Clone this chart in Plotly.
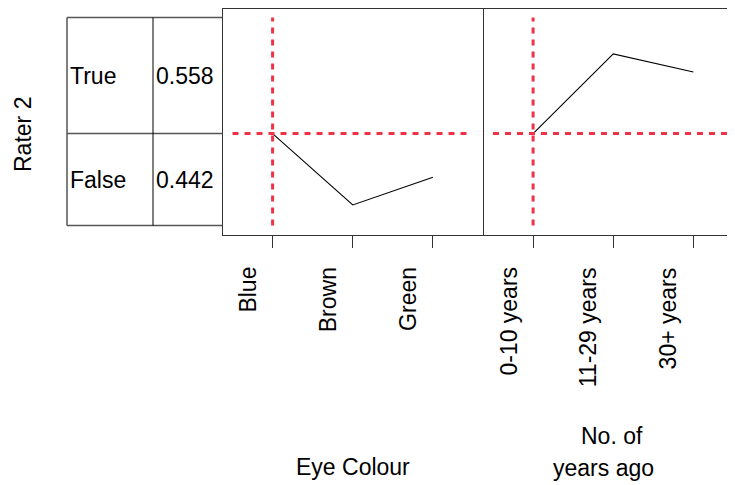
import plotly.graph_objects as go

# ---- data ----
rater_states = ["True", "False"]
rater_probs = [0.558, 0.442]
baseline = 0.442

eye_categories = ["Blue", "Brown", "Green"]
eye_values = [0.442, 0.099, 0.232]

years_categories = ["0-10 years", "11-29 years", "30+ years"]
years_values = [0.442, 0.825, 0.738]

y_title = "Rater 2"
x_title_1 = "Eye Colour"
x_title_2 = ["No. of", "years ago"]

# ---- geometry helpers (screen pixels -> paper); page body has an 8px margin ----
OFF = 8
FW, FH = 735 - OFF, 485 - OFF
def px(x):
    return (x - OFF) / FW
def py(y):
    return (FH - (y - OFF)) / FH

FONT = "Liberation Sans, Arial, sans-serif"
FS = 23
RED = "#EE3346"
AX = "#333333"
DASH = "6px,6px"

fig = go.Figure()

# main lines
fig.add_trace(go.Scatter(x=list(range(len(eye_categories))), y=eye_values, mode="lines",
                         line=dict(color="black", width=1.1), xaxis="x", yaxis="y",
                         showlegend=False, hoverinfo="skip"))
fig.add_trace(go.Scatter(x=list(range(len(years_categories))), y=years_values, mode="lines",
                         line=dict(color="black", width=1.1), xaxis="x2", yaxis="y2",
                         showlegend=False, hoverinfo="skip"))

# red reference lines (drawn from data scale)
for xa, ya in (("x", "y"), ("x2", "y2")):
    fig.add_trace(go.Scatter(x=[0, 0], y=[0, 1], mode="lines",
                             line=dict(color=RED, width=3, dash=DASH),
                             xaxis=xa, yaxis=ya, showlegend=False, hoverinfo="skip"))
    fig.add_trace(go.Scatter(x=[-0.5, 2.42], y=[baseline, baseline], mode="lines",
                             line=dict(color=RED, width=3, dash=DASH),
                             xaxis=xa, yaxis=ya, showlegend=False, hoverinfo="skip"))

panel_left, panel_mid, panel_top, panel_bot = 222.5, 483, 8.5, 235
y0_px, y1_px = 225.5, 17.5
ppu = y0_px - y1_px
yrange = [-(panel_bot - y0_px) / ppu, 1 + (y1_px - panel_top) / ppu]
unit = (panel_mid - panel_left) / 3.25

fig.update_layout(
    width=FW, height=FH, margin=dict(l=0, r=0, t=0, b=0),
    paper_bgcolor="white", plot_bgcolor="white",
    font=dict(family=FONT, size=FS, color="black"),
    xaxis=dict(domain=[px(panel_left), px(panel_mid)], range=[-0.625, 2.625],
               tickvals=[0, 1, 2], showticklabels=False, ticks="outside", ticklen=12,
               tickcolor=AX, tickwidth=1, showline=True, linecolor=AX, linewidth=1,
               mirror=True, showgrid=False, zeroline=False, fixedrange=True),
    yaxis=dict(domain=[py(panel_bot), py(panel_top)], range=yrange, anchor="x",
               showticklabels=False, ticks="", showline=True, linecolor=AX, linewidth=1,
               mirror=True, showgrid=False, zeroline=False),
    xaxis2=dict(domain=[px(panel_mid), 1.0], range=[-0.625, -0.625 + (735 - panel_mid) / unit],
                tickvals=[0, 1, 2], showticklabels=False, ticks="outside", ticklen=12,
                tickcolor=AX, tickwidth=1, showline=True, linecolor=AX, linewidth=1,
                mirror=True, showgrid=False, zeroline=False, anchor="y2"),
    yaxis2=dict(domain=[py(panel_bot), py(panel_top)], range=yrange, anchor="x2",
                showticklabels=False, ticks="", showline=False, showgrid=False,
                zeroline=False),
)

# ---- probability table on the left ----
tbl_left, tbl_mid = 67, 153
shapes = []
for b in [0.0, baseline, 1.0]:
    shapes.append(dict(type="line", xref="paper", yref="y", x0=px(tbl_left), x1=px(panel_left),
                       y0=b, y1=b, line=dict(color="#555555", width=1.5)))
shapes.append(dict(type="line", xref="paper", yref="y", x0=px(tbl_left), x1=px(tbl_left),
                   y0=0, y1=1, line=dict(color="#555555", width=1.5)))
shapes.append(dict(type="line", xref="paper", yref="y", x0=px(tbl_mid), x1=px(tbl_mid),
                   y0=0, y1=1, line=dict(color="black", width=1)))
fig.update_layout(shapes=shapes)

ann = []
# rows: True on top (1-p_true..1), False below (0..p_false)
row_bounds = {"True": (1 - rater_probs[0], 1.0), "False": (0.0, rater_probs[1])}
for state, prob in zip(rater_states, rater_probs):
    lo, hi = row_bounds[state]
    yc = (lo + hi) / 2
    ann.append(dict(text=state, xref="paper", yref="y", x=px(tbl_left + 1), y=yc,
                    xanchor="left", yanchor="middle", showarrow=False,
                    font=dict(size=FS, family=FONT)))
    ann.append(dict(text=f"{prob:.3f}", xref="paper", yref="y", x=px(tbl_mid + 1), y=yc,
                    xanchor="left", yanchor="middle", showarrow=False,
                    font=dict(size=FS, family=FONT)))

# rotated category labels
for xa, cats in (("x", eye_categories), ("x2", years_categories)):
    for i, c in enumerate(cats):
        ann.append(dict(text=c, xref=xa, yref="paper", x=i, y=py(265), xshift=-25,
                        xanchor="center", yanchor="top", textangle=-90, showarrow=False,
                        font=dict(size=FS, family=FONT)))

# axis titles
ann.append(dict(text=y_title, xref="paper", yref="paper", x=px(23), y=py(135),
                xanchor="center", yanchor="middle", textangle=-90, showarrow=False,
                font=dict(size=FS, family=FONT)))
ann.append(dict(text=x_title_1, xref="x", yref="paper", x=1, y=py(467),
                xanchor="center", yanchor="middle", showarrow=False,
                font=dict(size=FS, family=FONT)))
ann.append(dict(text=x_title_2[0], xref="paper", yref="paper", x=px(612), y=py(436),
                xanchor="center", yanchor="middle", showarrow=False,
                font=dict(size=FS, family=FONT)))
ann.append(dict(text=x_title_2[1], xref="paper", yref="paper", x=px(603), y=py(468),
                xanchor="center", yanchor="middle", showarrow=False,
                font=dict(size=FS, family=FONT)))
fig.update_layout(annotations=ann)

fig.write_html("out.html")
